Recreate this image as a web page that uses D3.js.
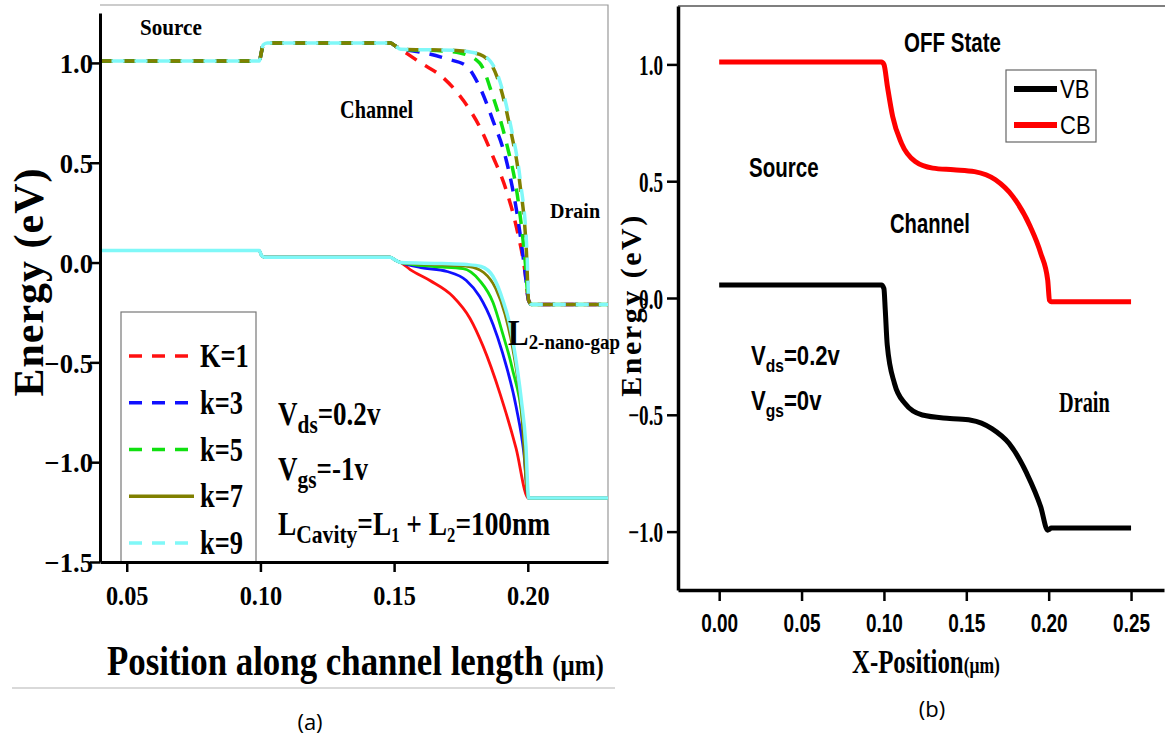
<!DOCTYPE html>
<html>
<head>
<meta charset="utf-8">
<script src="https://cdn.jsdelivr.net/npm/d3@7"></script>
<style>
body { margin: 0; background: #fff; }
svg { display: block; }
.serif { font-family: "Liberation Serif", "Times New Roman", serif; font-weight: bold; }
.sans { font-family: "Liberation Sans", Arial, sans-serif; }
.sansb { font-family: "Liberation Sans", Arial, sans-serif; font-weight: bold; }
.cap { font-family: "Open Sans", "Liberation Sans", sans-serif; }
</style>
</head>
<body>
<svg id="chart" width="1165" height="740"></svg>
<script>
// ---- panel (a): band edges for several k ----
var kLabels = ['K=1', 'k=3', 'k=5', 'k=7', 'k=9'];
var kColors = ['#ff1010', '#1010ff', '#10e010', '#808000', '#80f8f8'];
var kLegendDash = [true, true, true, false, true];

// conduction band (dashed), shared source + first step, then per-k tails
var cbLead = [[0.04, 1.01], [0.0996, 1.01], [0.1003, 1.05], [0.1010, 1.09], [0.1025, 1.10],
    [0.1485, 1.10], [0.1505, 1.085], [0.1525, 1.068]];
var cbK1 = [[0.155, 1.045], [0.16, 1.0], [0.168, 0.93], [0.176, 0.81], [0.182, 0.68], [0.187, 0.53],
    [0.192, 0.36], [0.1957, 0.18], [0.199, -0.05], [0.2003, -0.19], [0.2015, -0.21], [0.23, -0.21]];
var cbK3 = [[0.156, 1.062], [0.163, 1.045], [0.1698, 1.02], [0.177, 0.985], [0.182, 0.88], [0.187, 0.71],
    [0.192, 0.51], [0.1964, 0.21], [0.199, -0.05], [0.2003, -0.19], [0.2015, -0.21], [0.23, -0.21]];
var cbK5 = [[0.158, 1.065], [0.168, 1.06], [0.1747, 1.05], [0.182, 1.0], [0.187, 0.83], [0.192, 0.60],
    [0.1964, 0.31], [0.199, 0.01], [0.2003, -0.19], [0.2015, -0.21], [0.23, -0.21]];
var cbK7 = [[0.16, 1.066], [0.172, 1.064], [0.178, 1.055], [0.1833, 1.035], [0.1885, 0.93], [0.1933, 0.68],
    [0.197, 0.40], [0.1995, 0.05], [0.2003, -0.19], [0.2015, -0.21], [0.23, -0.21]];
var cbK9 = [[0.16, 1.066], [0.172, 1.064], [0.1785, 1.055], [0.1838, 1.035], [0.189, 0.93], [0.1937, 0.68],
    [0.1973, 0.40], [0.1997, 0.05], [0.2004, -0.19], [0.2015, -0.21], [0.23, -0.21]];

// valence band (solid)
var vbLead = [[0.04, 0.06], [0.0996, 0.06], [0.1004, 0.035], [0.1015, 0.027], [0.1485, 0.027],
    [0.1505, 0.012], [0.1525, 0.0]];
var vbK1 = [[0.156, -0.035], [0.1634, -0.09], [0.172, -0.17], [0.1784, -0.28], [0.1833, -0.42],
    [0.1897, -0.66], [0.1956, -0.93], [0.2002, -1.18], [0.23, -1.18]];
var vbK3 = [[0.16, -0.025], [0.1698, -0.045], [0.177, -0.09], [0.182, -0.17], [0.187, -0.31],
    [0.1905, -0.45], [0.1956, -0.72], [0.1985, -0.95], [0.2002, -1.18], [0.23, -1.18]];
var vbK5 = [[0.165, -0.02], [0.1758, -0.03], [0.182, -0.09], [0.187, -0.20], [0.1907, -0.36],
    [0.194, -0.52], [0.1985, -0.86], [0.2002, -1.18], [0.23, -1.18]];
var vbK7 = [[0.168, -0.012], [0.178, -0.02], [0.1835, -0.05], [0.188, -0.13], [0.1915, -0.26],
    [0.1945, -0.44], [0.1975, -0.72], [0.2002, -1.18], [0.23, -1.18]];
var vbK9 = [[0.168, -0.005], [0.1773, -0.01], [0.1825, -0.02], [0.187, -0.07], [0.1907, -0.19],
    [0.1934, -0.32], [0.195, -0.44], [0.1975, -0.68], [0.1993, -0.92], [0.2003, -1.18], [0.23, -1.18]];

var cbTails = [cbK1, cbK3, cbK5, cbK7, cbK9];
var vbTails = [vbK1, vbK3, vbK5, vbK7, vbK9];

var xTicksA = [0.05, 0.10, 0.15, 0.20];
var xMinorA = [0.075, 0.125, 0.175, 0.225];
var yTicksA = [-1.5, -1.0, -0.5, 0.0, 0.5, 1.0];
var yMinorA = [-1.25, -0.75, -0.25, 0.25, 0.75, 1.25];

// ---- panel (b): OFF state ----
var cbB = [[0, 1.01], [0.0985, 1.01], [0.1, 1.0], [0.1021, 0.906], [0.1053, 0.777], [0.1106, 0.663],
    [0.119, 0.584], [0.1296, 0.556], [0.1423, 0.549], [0.155, 0.541], [0.1677, 0.506], [0.1783, 0.434],
    [0.1888, 0.306], [0.1952, 0.191], [0.1994, 0.077], [0.2005, -0.01], [0.2015, -0.016], [0.25, -0.016]];
var vbB = [[0, 0.056], [0.0985, 0.056], [0.1, 0.04], [0.1008, -0.05], [0.102, -0.2], [0.1064, -0.366],
    [0.1127, -0.451], [0.1233, -0.501], [0.14, -0.516], [0.1528, -0.523], [0.1655, -0.559], [0.176, -0.623],
    [0.1867, -0.751], [0.1952, -0.895], [0.1994, -0.994], [0.2005, -0.99], [0.2015, -0.985], [0.25, -0.985]];
var bLabels = ['VB', 'CB'];
var bColors = ['#000000', '#ff0000'];

var xTicksB = [0.00, 0.05, 0.10, 0.15, 0.20, 0.25];
var xMinorB = [-0.025, 0.025, 0.075, 0.125, 0.175, 0.225];
var yTicksB = [-1.0, -0.5, 0.0, 0.5, 1.0];
var yMinorB = [-1.25, -0.75, -0.25, 0.25, 0.75, 1.25];

var svg = d3.select('#chart');

var xA = d3.scaleLinear().domain([0.04, 0.23]).range([100, 608]);
var yA = d3.scaleLinear().domain([-1.5, 1.25]).range([562, 13]);
var xB = d3.scaleLinear().domain([-0.025, 0.27]).range([678, 1164]);
var yB = d3.scaleLinear().domain([-1.25, 1.25]).range([590, 6]);

function note(g, x, y, parts, o) {
    var t = g.append('text')
        .attr('class', o.cls)
        .attr('transform', 'translate(' + x + ',' + y + ') scale(' + (o.sx || 1) + ',1)')
        .attr('text-anchor', o.anchor || 'start')
        .style('font-size', o.size + 'px');
    parts.forEach(function (p) {
        t.append('tspan')
            .attr('y', p[2] || 0)
            .style('font-size', (p[1] || o.size) + 'px')
            .text(p[0]);
    });
    return t;
}

function axes(g, xs, ys, o) {
    var xg = g.append('g').attr('transform', 'translate(0,' + ys.range()[0] + ')');
    xg.call(d3.axisBottom(xs).tickValues(o.xMinor).tickSize(o.minor).tickFormat(''));
    xg.call(d3.axisBottom(xs).tickValues(o.xMajor).tickSize(o.major).tickSizeOuter(0).tickFormat(d3.format(o.xFmt)));
    var yg = g.append('g').attr('transform', 'translate(' + xs.range()[0] + ',0)');
    yg.call(d3.axisLeft(ys).tickValues(o.yMinor).tickSize(o.minor).tickFormat(''));
    yg.call(d3.axisLeft(ys).tickValues(o.yMajor).tickSize(o.major).tickSizeOuter(0).tickFormat(d3.format('.1f')));

    g.selectAll('.domain').attr('stroke', '#000').attr('stroke-width', o.axisW);
    g.selectAll('.tick line').attr('stroke', '#000').attr('stroke-width', 2.5);

    xg.selectAll('text')
        .attr('class', o.xCls)
        .attr('y', o.xLabelY)
        .attr('dy', null)
        .attr('transform', 'scale(' + o.xSx + ',1)')
        .style('font-size', o.xSize + 'px')
        .attr('fill', '#000');
    yg.selectAll('text')
        .attr('class', 'serif')
        .attr('x', 0)
        .attr('dy', '0.35em')
        .attr('transform', 'translate(' + o.yLabelX + ',0) scale(' + o.ySx + ',1)')
        .style('font-size', o.ySize + 'px')
        .attr('fill', '#000');
}

// ================= panel (a) =================
var ga = svg.append('g');

ga.append('path')
    .attr('d', 'M100,5 H608 V562')
    .attr('fill', 'none')
    .attr('stroke', '#999')
    .attr('stroke-width', 1.2);

var lineA = d3.line()
    .x(function (d) { return xA(d[0]); })
    .y(function (d) { return yA(d[1]); })
    .curve(d3.curveMonotoneX);

kLabels.forEach(function (k, i) {
    ga.append('path')
        .attr('d', lineA(vbLead.concat(vbTails[i])))
        .attr('fill', 'none')
        .attr('stroke', kColors[i])
        .attr('stroke-width', i === 4 ? 3.5 : 2.8);
});
kLabels.forEach(function (k, i) {
    ga.append('path')
        .attr('d', lineA(cbLead.concat(cbTails[i])))
        .attr('fill', 'none')
        .attr('stroke', kColors[i])
        .attr('stroke-width', 3.5)
        .attr('stroke-dasharray', '13,10')
        .attr('stroke-dashoffset', i === 4 ? 11.5 : 0);
});

// legend (a)
var lgA = ga.append('g');
lgA.append('rect')
    .attr('x', 121).attr('y', 312)
    .attr('width', 135).attr('height', 250)
    .attr('fill', '#fff')
    .attr('stroke', '#777')
    .attr('stroke-width', 1.2);
var legY = d3.scaleLinear().domain([0, 4]).range([356, 543]);
kLabels.forEach(function (k, i) {
    lgA.append('line')
        .attr('x1', 129).attr('x2', 194)
        .attr('y1', legY(i)).attr('y2', legY(i))
        .attr('stroke', kColors[i])
        .attr('stroke-width', 3.5)
        .attr('stroke-dasharray', kLegendDash[i] ? '13,10' : null);
    note(lgA, 200, legY(i) + 11, [[k]], { cls: 'serif', size: 33, sx: 0.8 });
});

axes(ga, xA, yA, {
    xMajor: xTicksA, xMinor: xMinorA, yMajor: yTicksA, yMinor: yMinorA,
    major: 10, minor: 6, axisW: 3, xFmt: '.2f',
    xCls: 'serif', xLabelY: 43, xSize: 27, xSx: 0.9,
    yLabelX: -7, ySize: 28, ySx: 0.95
});

note(ga, 140, 35, [['Source']], { cls: 'serif', size: 24, sx: 0.88 });
note(ga, 340, 118, [['Channel']], { cls: 'serif', size: 26, sx: 0.78 });
note(ga, 550, 218, [['Drain']], { cls: 'serif', size: 22, sx: 0.91 });
note(ga, 508, 345, [['L', 36], ['2-nano-gap', 22, 4]], { cls: 'serif', size: 36, sx: 0.86 });
note(ga, 278, 425, [['V'], ['ds', 26, 8], ['=0.2v', 33, 0]], { cls: 'serif', size: 33, sx: 0.82 });
note(ga, 278, 480, [['V'], ['gs', 26, 8], ['=-1v', 33, 0]], { cls: 'serif', size: 33, sx: 0.82 });
note(ga, 278, 535, [['L'], ['Cavity', 26, 8], ['=L', 33, 0], ['1', 20, 7], [' + L', 33, 0], ['2', 20, 7], ['=100nm', 33, 0]],
    { cls: 'serif', size: 33, sx: 0.83 });

ga.append('text')
    .attr('class', 'serif')
    .attr('transform', 'translate(43,282) rotate(-90)')
    .attr('text-anchor', 'middle')
    .style('font-size', '42px')
    .style('letter-spacing', '1px')
    .text('Energy (eV)');

note(ga, 107, 675, [['Position along channel length '], ['(\u03bcm)', 30, 0]], { cls: 'serif', size: 42, sx: 0.83 });

ga.append('line')
    .attr('x1', 12).attr('x2', 615)
    .attr('y1', 688).attr('y2', 688)
    .attr('stroke', '#ccc')
    .attr('stroke-width', 1.5);

ga.append('text')
    .attr('class', 'cap')
    .attr('x', 310).attr('y', 730)
    .attr('text-anchor', 'middle')
    .style('font-size', '22px')
    .text('(a)');

// ================= panel (b) =================
var gb = svg.append('g');

gb.append('line')
    .attr('x1', 678).attr('x2', 1165)
    .attr('y1', 6).attr('y2', 6)
    .attr('stroke', '#555')
    .attr('stroke-width', 1.5);

var lineB = d3.line()
    .x(function (d) { return xB(d[0]); })
    .y(function (d) { return yB(d[1]); })
    .curve(d3.curveMonotoneX);

[vbB, cbB].forEach(function (s, i) {
    gb.append('path')
        .attr('d', lineB(s))
        .attr('fill', 'none')
        .attr('stroke', bColors[i])
        .attr('stroke-width', 5);
});

axes(gb, xB, yB, {
    xMajor: xTicksB, xMinor: xMinorB, yMajor: yTicksB, yMinor: yMinorB,
    major: 11, minor: 5, axisW: 3.5, xFmt: '.2f',
    xCls: 'sansb', xLabelY: 42, xSize: 26, xSx: 0.73,
    yLabelX: -15, ySize: 29, ySx: 0.66
});

// legend (b)
var lgB = gb.append('g');
lgB.append('rect')
    .attr('x', 1006).attr('y', 70)
    .attr('width', 90).attr('height', 72)
    .attr('fill', '#fff')
    .attr('stroke', '#666')
    .attr('stroke-width', 1.2);
bLabels.forEach(function (b, i) {
    var y = 89 + i * 36;
    lgB.append('line')
        .attr('x1', 1014).attr('x2', 1057)
        .attr('y1', y).attr('y2', y)
        .attr('stroke', bColors[i])
        .attr('stroke-width', 6);
    note(lgB, 1060, y + 9, [[b]], { cls: 'sans', size: 25, sx: 0.88 });
});

note(gb, 904, 52, [['OFF State']], { cls: 'sansb', size: 27, sx: 0.76 });
note(gb, 749, 177, [['Source']], { cls: 'sansb', size: 27, sx: 0.76 });
note(gb, 890, 233, [['Channel']], { cls: 'sansb', size: 27, sx: 0.75 });
note(gb, 751, 365, [['V'], ['ds', 19, 7], ['=0.2v', 27, 0]], { cls: 'sansb', size: 27, sx: 0.82 });
note(gb, 751, 410, [['V'], ['gs', 19, 7], ['=0v', 27, 0]], { cls: 'sansb', size: 27, sx: 0.82 });
note(gb, 1059, 412, [['Drain']], { cls: 'serif', size: 29, sx: 0.7 });

gb.append('text')
    .attr('class', 'serif')
    .attr('transform', 'translate(641,305) rotate(-90)')
    .attr('text-anchor', 'middle')
    .style('font-size', '30px')
    .style('letter-spacing', '2.5px')
    .text('Energy (eV)');

note(gb, 852, 673, [['X-Position'], ['(\u03bcm)', 24, 0]], { cls: 'serif', size: 34, sx: 0.73 });

gb.append('text')
    .attr('class', 'cap')
    .attr('x', 932).attr('y', 717)
    .attr('text-anchor', 'middle')
    .style('font-size', '22px')
    .text('(b)');
</script>
</body>
</html>
